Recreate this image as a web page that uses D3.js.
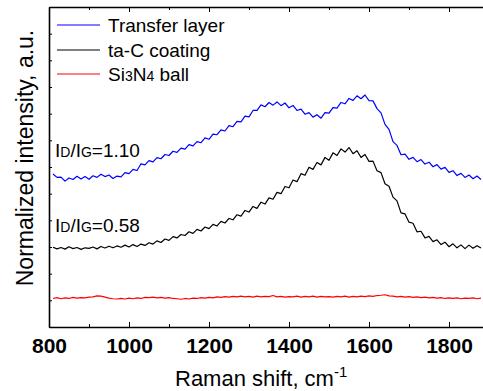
<!DOCTYPE html>
<html>
<head>
<meta charset="utf-8">
<script src="https://cdn.jsdelivr.net/npm/d3@7/dist/d3.min.js"></script>
<style>
    body { margin: 0; background: #fff; }
    svg text { font-family: "Liberation Sans", Arial, sans-serif; fill: #000; }
</style>
</head>
<body>
<script>

// Raman shift grid of the spectra (cm-1)
const shiftStart = 810;
const shiftStep = 10;

// spectra, one value every 10 cm-1 from 810 to 1880
const transferLayer = [
    5.74, 5.61, 5.62, 5.47, 5.59, 5.53, 5.65, 5.55, 5.64, 5.54,
    5.67, 5.61, 5.73, 5.64, 5.70, 5.57, 5.66, 5.63, 5.79, 5.75,
    5.91, 5.87, 6.12, 6.08, 6.24, 6.19, 6.35, 6.31, 6.47, 6.43,
    6.59, 6.55, 6.71, 6.67, 6.84, 6.79, 6.95, 6.91, 7.09, 7.04,
    7.23, 7.21, 7.39, 7.35, 7.55, 7.51, 7.71, 7.69, 7.91, 7.88,
    8.12, 8.12, 8.33, 8.26, 8.42, 8.32, 8.44, 8.30, 8.40, 8.22,
    8.31, 8.12, 8.17, 7.98, 8.04, 7.87, 7.96, 7.83, 8.04, 8.02,
    8.23, 8.21, 8.42, 8.37, 8.57, 8.50, 8.67, 8.56, 8.70, 8.49,
    8.48, 8.19, 8.03, 7.60, 7.41, 6.95, 6.81, 6.46, 6.48, 6.29,
    6.36, 6.20, 6.28, 6.11, 6.18, 6.01, 6.09, 5.92, 5.99, 5.80,
    5.86, 5.68, 5.76, 5.61, 5.70, 5.56, 5.66, 5.53
];

const taCCoating = [
    2.99, 2.93, 2.98, 2.92, 3.01, 2.94, 2.98, 2.91, 2.97, 2.95,
    3.00, 2.93, 3.02, 2.96, 3.03, 2.97, 3.04, 2.99, 3.07, 3.00,
    3.09, 3.02, 3.11, 3.06, 3.16, 3.11, 3.23, 3.17, 3.30, 3.25,
    3.39, 3.34, 3.47, 3.43, 3.57, 3.51, 3.66, 3.60, 3.75, 3.69,
    3.85, 3.79, 3.96, 3.90, 4.07, 4.02, 4.21, 4.16, 4.37, 4.31,
    4.52, 4.45, 4.68, 4.61, 4.84, 4.79, 5.05, 5.00, 5.27, 5.22,
    5.51, 5.45, 5.75, 5.69, 5.99, 5.91, 6.17, 6.08, 6.36, 6.25,
    6.53, 6.43, 6.68, 6.56, 6.73, 6.50, 6.61, 6.36, 6.47, 6.21,
    6.22, 5.86, 5.79, 5.37, 5.28, 4.87, 4.73, 4.28, 4.24, 3.93,
    3.89, 3.57, 3.59, 3.34, 3.40, 3.20, 3.27, 3.09, 3.18, 3.01,
    3.12, 2.97, 3.08, 2.94, 3.07, 2.95, 3.05, 2.96
];

const si3n4Ball = [
    1.07, 1.10, 1.06, 1.09, 1.07, 1.11, 1.08, 1.10, 1.09, 1.12,
    1.13, 1.17, 1.16, 1.12, 1.08, 1.06, 1.05, 1.07, 1.05, 1.08,
    1.06, 1.09, 1.07, 1.11, 1.10, 1.12, 1.09, 1.11, 1.08, 1.10,
    1.07, 1.06, 1.04, 1.07, 1.05, 1.08, 1.07, 1.10, 1.08, 1.11,
    1.09, 1.13, 1.11, 1.14, 1.12, 1.15, 1.13, 1.16, 1.13, 1.15,
    1.12, 1.16, 1.13, 1.15, 1.14, 1.18, 1.13, 1.15, 1.12, 1.14,
    1.13, 1.16, 1.12, 1.15, 1.13, 1.16, 1.12, 1.15, 1.13, 1.14,
    1.12, 1.15, 1.13, 1.16, 1.12, 1.15, 1.13, 1.16, 1.14, 1.17,
    1.15, 1.18, 1.19, 1.21, 1.17, 1.16, 1.13, 1.15, 1.12, 1.14,
    1.11, 1.13, 1.10, 1.12, 1.09, 1.11, 1.08, 1.10, 1.07, 1.09,
    1.07, 1.09, 1.06, 1.08, 1.07, 1.09, 1.06, 1.08
];

const seriesColors = ["#0000ff", "#000000", "#ff0000"];

// axis ticks
const xMajorTicks = [800, 1000, 1200, 1400, 1600, 1800];
const xMinorTicks = [900, 1100, 1300, 1500, 1700];
const yTicks = [0, 1, 2, 3, 4, 5, 6, 7, 8, 9, 10, 11, 12];

// I_D/I_G ratios written next to the two carbon spectra
const ratioValues = ["1.10", "0.58"];


const width = 483, height = 391;
const margin = {left: 49, top: 7, right: 0, bottom: 64};

const x = d3.scaleLinear()
    .domain([800, 1885])
    .range([margin.left, width - margin.right]);

const y = d3.scaleLinear()
    .domain([0, 12])
    .range([height - margin.bottom, margin.top]);

const svg = d3.select("body")
    .append("svg")
    .attr("width", width)
    .attr("height", height);

svg.append("clipPath")
    .attr("id", "plot-clip")
    .append("rect")
    .attr("x", margin.left)
    .attr("y", margin.top)
    .attr("width", width - margin.left)
    .attr("height", height - margin.bottom - margin.top);

// spectra
const line = d3.line()
    .x((d, i) => x(shiftStart + i * shiftStep))
    .y(d => y(d));

const spectra = [transferLayer, taCCoating, si3n4Ball];

svg.append("g")
    .attr("clip-path", "url(#plot-clip)")
    .selectAll("path")
    .data(spectra)
    .enter().append("path")
    .attr("d", d => line(d))
    .attr("fill", "none")
    .attr("stroke", (d, i) => seriesColors[i])
    .attr("stroke-width", 1.2)
    .attr("stroke-linejoin", "round");

// bottom axis, ticks pointing into the plot
const xBottom = svg.append("g")
    .attr("transform", `translate(0,${y(0)})`)
    .call(d3.axisBottom(x).tickValues(xMajorTicks).tickSize(-5).tickPadding(11)
        .tickFormat(d3.format("d")).tickSizeOuter(0));

xBottom.append("g")
    .call(d3.axisBottom(x).tickValues(xMinorTicks).tickSize(-3).tickFormat("").tickSizeOuter(0))
    .select(".domain").remove();

xBottom.selectAll("text")
    .style("font-family", "'Liberation Sans Narrow', 'Liberation Sans', Arial, sans-serif")
    .style("font-size", "21px")
    .style("font-weight", "bold");

// top axis, no labels
const xTop = svg.append("g")
    .attr("transform", `translate(0,${y(12)})`)
    .call(d3.axisTop(x).tickValues(xMajorTicks).tickSize(-5).tickFormat("").tickSizeOuter(0));

xTop.append("g")
    .call(d3.axisTop(x).tickValues(xMinorTicks).tickSize(-3).tickFormat("").tickSizeOuter(0))
    .select(".domain").remove();

// left axis, only tick marks
svg.append("g")
    .attr("transform", `translate(${x(800)},0)`)
    .call(d3.axisLeft(y).tickValues(yTicks).tickSize(-3).tickFormat("").tickSizeOuter(0));

svg.selectAll(".domain")
    .attr("stroke", "#000")
    .attr("stroke-width", 1.6);

svg.selectAll(".tick line")
    .attr("stroke", "#000")
    .attr("stroke-width", 1);

// axis titles
const xTitle = svg.append("text")
    .attr("x", 175)
    .attr("y", 386)
    .style("font-size", "22px");
xTitle.append("tspan").text("Raman shift, cm");
xTitle.append("tspan")
    .attr("dy", -9)
    .style("font-size", "15px")
    .text("-1");

svg.append("text")
    .attr("transform", "translate(33,158) rotate(-90)")
    .attr("text-anchor", "middle")
    .style("font-size", "23px")
    .text("Normalized intensity, a.u.");

// legend
const legendRows = [
    [{t: "Transfer layer"}],
    [{t: "ta-C coating"}],
    [{t: "Si"}, {t: "3", small: true}, {t: "N"}, {t: "4", small: true}, {t: " ball"}]
];
const legendY = [25, 50, 74];

const legend = svg.append("g");

legend.selectAll("line")
    .data(legendRows)
    .enter().append("line")
    .attr("x1", 57)
    .attr("x2", 100)
    .attr("y1", (d, i) => legendY[i])
    .attr("y2", (d, i) => legendY[i])
    .attr("stroke", (d, i) => seriesColors[i])
    .attr("stroke-width", 1.2);

legend.selectAll("text")
    .data(legendRows)
    .enter().append("text")
    .attr("x", 108)
    .attr("y", (d, i) => legendY[i] + 7)
    .style("font-size", "19px")
    .each(function(parts) {
        d3.select(this).selectAll("tspan")
            .data(parts)
            .enter().append("tspan")
            .style("font-size", p => p.small ? "14px" : null)
            .text(p => p.t);
    });

// I_D/I_G labels
svg.selectAll(".ratio")
    .data(ratioValues)
    .enter().append("text")
    .attr("class", "ratio")
    .attr("x", 55)
    .attr("y", (d, i) => i === 0 ? 157 : 232)
    .style("font-size", "19px")
    .each(function(v) {
        const t = d3.select(this);
        t.append("tspan").text("I");
        t.append("tspan").style("font-size", "14px").text("D");
        t.append("tspan").text("/I");
        t.append("tspan").style("font-size", "14px").text("G");
        t.append("tspan").text("=" + v);
    });

</script>
</body>
</html>
